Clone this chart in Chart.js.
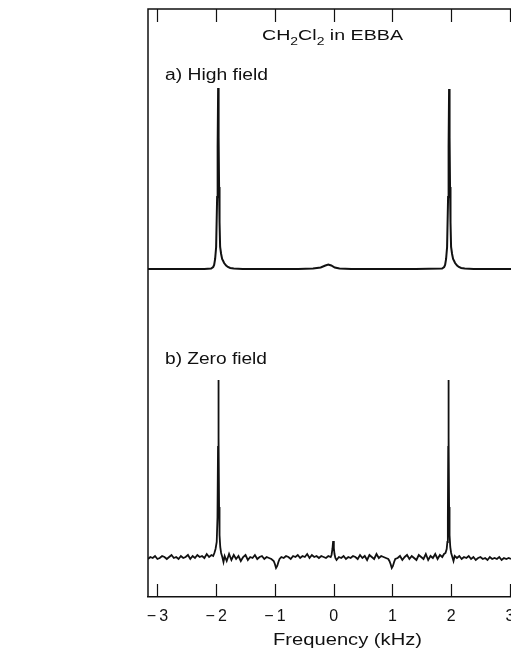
<!DOCTYPE html>
<html><head><meta charset="utf-8">
<script src="https://cdn.jsdelivr.net/npm/chart.js@4"></script>
<style>html,body{margin:0;padding:0;background:#fff;overflow:hidden}#wrap{width:511px;height:654px;position:relative}</style>
</head><body><div id="wrap"><canvas id="c" width="511" height="654"></canvas></div>
<script>
// Frequency (kHz), intensity (arbitrary units, stacked display)
const highField = [[-3.16,328],[-2.60,328],[-2.20,328],[-2.085,328.5],[-2.05,330],[-2.034,332],[-2.017,338],[-2.0,350],[-1.983,400],[-1.974,450],[-1.966,509],[-1.958,460],[-1.95,410],[-1.942,375],[-1.932,350],[-1.915,343],[-1.898,338],[-1.88,336],[-1.864,334],[-1.83,331.5],[-1.80,330],[-1.76,329],[-1.70,328.5],[-1.55,328],[-1.30,328],[-0.60,328],[-0.35,328.5],[-0.22,329.5],[-0.14,331.5],[-0.09,332.5],[-0.04,331.5],[0.02,329.5],[0.10,328.5],[0.30,328],[1.40,328],[1.847,328.5],[1.882,330],[1.898,332],[1.915,338],[1.932,350],[1.949,400],[1.958,450],[1.966,508],[1.974,460],[1.982,410],[1.990,375],[2.000,350],[2.017,343],[2.034,338],[2.052,336],[2.068,334],[2.102,331.5],[2.132,330],[2.172,329],[2.232,328.5],[2.382,328],[2.60,328],[3.02,328]];

const zeroField = [[-3.16,38],[-3.12,40],[-3.08,39],[-3.04,41],[-3.00,38],[-2.96,39],[-2.92,41],[-2.88,40],[-2.84,38],[-2.80,40],[-2.76,42],[-2.72,39],[-2.68,40],[-2.64,38],[-2.60,41],[-2.56,39],[-2.52,40],[-2.48,42],[-2.44,38],[-2.40,41],[-2.36,39],[-2.32,42],[-2.28,40],[-2.24,41],[-2.20,39],[-2.16,43],[-2.12,40],[-2.08,42],
[-2.05,41],[-2.03,44],[-2.01,48],[-1.99,55],[-1.977,80],[-1.968,150],[-1.962,217],[-1.956,160],[-1.95,90],[-1.942,62],[-1.93,50],[-1.915,44],[-1.895,40],[-1.875,35],[-1.855,41],
[-1.82,36],[-1.78,43],[-1.74,37],[-1.70,42],[-1.66,38],[-1.62,41],[-1.58,36],[-1.54,40],[-1.50,42],[-1.46,37],[-1.42,40],[-1.38,39],[-1.34,42],[-1.30,38],[-1.26,40],[-1.22,41],[-1.18,38],[-1.14,40],[-1.10,39],[-1.06,38],
[-1.02,36],[-1.0,33],[-0.98,29],[-0.96,31],[-0.94,35],[-0.92,38],
[-0.89,40],[-0.85,39],[-0.81,41],[-0.77,40],[-0.73,38],[-0.69,41],[-0.65,40],[-0.61,42],[-0.57,39],[-0.53,41],[-0.49,40],[-0.45,43],[-0.41,39],[-0.37,42],[-0.33,40],[-0.29,41],[-0.25,39],[-0.21,41],[-0.17,40],[-0.13,39],[-0.09,41],[-0.05,40],
[-0.035,42],[-0.02,48],[-0.008,56],[0.004,49],[0.015,43],[0.03,39],[0.05,37],
[0.09,40],[0.13,39],[0.17,41],[0.21,38],[0.25,40],[0.29,39],[0.33,41],[0.37,40],[0.41,38],[0.45,42],[0.49,39],[0.53,41],[0.57,37],[0.61,42],[0.65,40],[0.69,38],[0.73,43],[0.77,39],[0.81,41],[0.85,40],[0.89,39],[0.93,38],
[0.95,36],[0.97,33],[0.99,29],[1.01,31],[1.03,35],[1.05,38],
[1.09,39],[1.13,41],[1.17,37],[1.21,40],[1.25,42],[1.29,38],[1.33,41],[1.37,39],[1.41,37],[1.45,42],[1.49,40],[1.53,38],[1.57,43],[1.61,37],[1.65,41],[1.69,39],[1.73,43],[1.77,38],[1.81,42],[1.85,40],[1.88,43],
[1.905,44],[1.925,48],[1.937,55],[1.945,80],[1.951,150],[1.955,217],[1.960,160],[1.966,90],[1.974,62],[1.986,50],[2.001,44],[2.021,40],[2.041,36],[2.061,41],
[2.10,39],[2.14,41],[2.18,38],[2.22,40],[2.26,39],[2.30,41],[2.34,38],[2.38,40],[2.42,37],[2.46,39],[2.50,40],[2.54,38],[2.58,39],[2.62,37],[2.66,40],[2.70,38],[2.74,39],[2.78,38],[2.82,40],[2.86,37],[2.90,39],[2.94,38],[2.98,39],[3.02,38]];

const tickValues = [-3,-2,-1,0,1,2,3];
const titleParts = [['CH',0],['2',1],['Cl',0],['2',1],[' in EBBA',0]];
const labelA = 'a) High field';
const labelB = 'b) Zero field';
const xTitle = 'Frequency (kHz)';

const INK = '#111';
const FONT = '"Liberation Sans", Arial, sans-serif';

function wideText(ctx, text, x, y, size, targetW) {
  ctx.font = size + 'px ' + FONT;
  const w = ctx.measureText(text).width;
  ctx.save(); ctx.translate(x, y); ctx.scale(targetW / w, 1);
  ctx.textAlign = 'left'; ctx.textBaseline = 'alphabetic';
  ctx.fillText(text, 0, 0); ctx.restore();
}

const framePlugin = {
  id: 'frame',
  afterDraw(chart) {
    const ctx = chart.ctx, a = chart.chartArea, xs = chart.scales.x;
    ctx.save();
    ctx.strokeStyle = INK; ctx.lineWidth = 1.5;
    ctx.beginPath();
    ctx.moveTo(a.left, a.bottom); ctx.lineTo(a.left, a.top); ctx.lineTo(a.right, a.top);
    ctx.stroke();
    ctx.lineWidth = 1.2;
    tickValues.forEach(v => {
      const px = Math.round(xs.getPixelForValue(v)) + 0.5;
      ctx.beginPath(); ctx.moveTo(px, a.top); ctx.lineTo(px, a.top + 13); ctx.stroke();
      ctx.beginPath(); ctx.moveTo(px, a.bottom); ctx.lineTo(px, a.bottom - 13); ctx.stroke();
    });
    ctx.fillStyle = INK;
    const big = 15.5, small = 11;
    let natural = 0;
    titleParts.forEach(([t, sub]) => { ctx.font = (sub ? small : big) + 'px ' + FONT; natural += ctx.measureText(t).width; });
    const sx = 141 / natural;
    ctx.save(); ctx.translate(262, 40); ctx.scale(sx, 1);
    let cx = 0;
    titleParts.forEach(([t, sub]) => {
      ctx.font = (sub ? small : big) + 'px ' + FONT;
      ctx.fillText(t, cx, sub ? 5 : 0);
      cx += ctx.measureText(t).width;
    });
    ctx.restore();
    wideText(ctx, labelA, 165, 80, 16, 103);
    wideText(ctx, labelB, 165, 364, 16, 102);
    wideText(ctx, xTitle, 273, 645, 16.5, 149);
    ctx.restore();
  }
};

new Chart(document.getElementById('c'), {
  type: 'scatter',
  data: {
    datasets: [
      { data: highField.map(([x, y]) => ({x, y})), showLine: true, borderColor: INK, borderWidth: 2, pointRadius: 0, tension: 0 },
      { data: zeroField.map(([x, y]) => ({x, y})), showLine: true, borderColor: INK, borderWidth: 1.8, pointRadius: 0, tension: 0 }
    ]
  },
  options: {
    responsive: false, animation: false,
    layout: { padding: { left: 148, top: 9, right: 0, bottom: 0 } },
    plugins: { legend: { display: false }, tooltip: { enabled: false } },
    scales: {
      x: {
        type: 'linear', min: -3.16, max: 3.02,
        afterBuildTicks: s => { s.ticks = tickValues.map(v => ({ value: v })); },
        afterFit: s => { s.height = 57; s.paddingLeft = 0; s.paddingRight = 0; },
        grid: { display: false },
        border: { display: true, color: INK, width: 1.5 },
        ticks: {
          color: INK, padding: 2, maxRotation: 0, autoSkip: false,
          font: { family: FONT, size: 16 },
          callback: v => v < 0 ? '\u2212\u2009' + Math.abs(v) : String(v)
        }
      },
      y: { display: false, min: 0, max: 588 }
    }
  },
  plugins: [framePlugin]
});
</script></body></html>
